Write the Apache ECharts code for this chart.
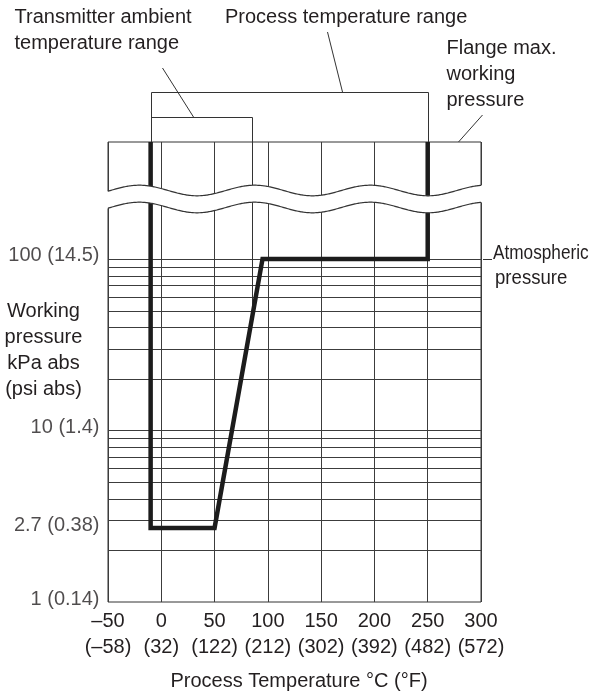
<!DOCTYPE html>
<html>
<head>
<meta charset="utf-8">
<script src="https://cdn.jsdelivr.net/npm/echarts@6.0.0/dist/echarts.min.js"></script>
<style>
html,body{margin:0;padding:0;background:#fff;}
#chart{width:596px;height:700px;}
</style>
</head>
<body>
<div id="chart"></div>
<script>
// ---- data ----
const xTicks = [-50, 0, 50, 100, 150, 200, 250, 300];
const xTickLabels = ['–50', '0', '50', '100', '150', '200', '250', '300'];
const xTickLabelsF = ['(–58)', '(32)', '(122)', '(212)', '(302)', '(392)', '(482)', '(572)'];
const yTicks = [1, 2.7, 10, 100];
const yTickLabels = ['1 (0.14)', '2.7 (0.38)', '10 (1.4)', '100 (14.5)'];
const pressureGrid = [2, 3, 4, 5, 6, 7, 8, 9, 10, 20, 30, 40, 50, 60, 70, 80, 90, 100];
const limitTemp = [-10, -10, 50, 95, 250, 250];
const limitPressure = [480, 2.7, 2.7, 100, 100, 480];
const processRange = [-10, 250];
const ambientRange = [-10, 85];
const ambientLimitPressure = 50;
const atmosphericPressure = 100;
const leaderAnchors = { ambient: 30, process: 170, flange: 278 };
const xMin = -50, xMax = 300, yMin = 1, yMax = 480;

const FONT = '"Liberation Sans", Arial, Helvetica, sans-serif';
const TXT = '#231f20';
const GRID = '#3c3c3c';

const chart = echarts.init(document.getElementById('chart'), null, {renderer: 'canvas'});

function r(v) { return Math.round(v) + 0.5; }

const option = {
  animation: false,
  backgroundColor: '#fff',
  grid: {
    left: 108, right: 115, top: 142, bottom: 98,
    show: true, borderColor: '#333', borderWidth: 1, backgroundColor: 'transparent'
  },
  xAxis: {
    type: 'value', min: xMin, max: xMax, interval: 50,
    axisLine: {show: false}, axisTick: {show: false},
    splitLine: {show: true, lineStyle: {color: GRID, width: 1}},
    axisLabel: {
      show: true, margin: 6, showMinLabel: true, showMaxLabel: true, hideOverlap: false,
      formatter: function (v) {
        const i = xTicks.indexOf(v);
        if (i < 0) return '';
        return '{t|' + xTickLabels[i] + '}\n{f|' + xTickLabelsF[i] + '}';
      },
      rich: {
        t: {fontFamily: FONT, fontSize: 20, lineHeight: 26, color: TXT},
        f: {fontFamily: FONT, fontSize: 20, lineHeight: 26, color: TXT}
      }
    }
  },
  yAxis: {
    type: 'log', min: yMin, max: yMax, logBase: 10,
    axisLine: {show: false}, axisTick: {show: false},
    splitLine: {show: false}, axisLabel: {show: false}
  },
  series: [
    // horizontal pressure grid lines
    {
      type: 'custom', z: 1, silent: true, clip: false,
      data: pressureGrid.map(v => [xMin, v]),
      renderItem: function (params, api) {
        const p1 = api.coord([xMin, api.value(1)]);
        const p2 = api.coord([xMax, api.value(1)]);
        return {type: 'line', shape: {x1: p1[0], y1: r(p1[1]), x2: p2[0], y2: r(p2[1])},
                style: {stroke: GRID, lineWidth: 1}};
      }
    },
    // brackets, ambient limit line, leaders
    {
      type: 'custom', z: 1, silent: true, clip: false,
      data: [[100, 10]],
      renderItem: function (params, api) {
        const cs = params.coordSys;
        const top = cs.y;
        const xp = v => r(api.coord([v, 10])[0]);
        const procY = top - 50;
        const ambY = top - 25;
        const ambBottom = api.coord([ambientRange[1], ambientLimitPressure])[1];
        const st = {stroke: '#333', lineWidth: 1, fill: null};
        const children = [
          {type: 'polyline', shape: {points: [[xp(processRange[0]), top], [xp(processRange[0]), r(procY)], [xp(processRange[1]), r(procY)], [xp(processRange[1]), top]]}, style: st},
          {type: 'polyline', shape: {points: [[xp(ambientRange[0]), r(ambY)], [xp(ambientRange[1]), r(ambY)], [xp(ambientRange[1]), ambBottom]]}, style: st},
          // leaders
          {type: 'line', shape: {x1: xp(leaderAnchors.ambient), y1: ambY, x2: xp(leaderAnchors.ambient) - 31, y2: ambY - 49}, style: st},
          {type: 'line', shape: {x1: xp(leaderAnchors.process), y1: procY, x2: xp(leaderAnchors.process) - 15, y2: procY - 60}, style: st},
          {type: 'line', shape: {x1: xp(leaderAnchors.flange), y1: top, x2: xp(leaderAnchors.flange) + 24, y2: top - 27}, style: st}
        ];
        const atm = api.coord([xMax, atmosphericPressure]);
        children.push({type: 'line', shape: {x1: atm[0] + 2, y1: r(atm[1]), x2: atm[0] + 11, y2: r(atm[1])}, style: st});
        return {type: 'group', children: children};
      }
    },
    // working limit (thick line)
    {
      type: 'line', z: 3, silent: true, clip: false,
      data: limitTemp.map((t, i) => [t, limitPressure[i]]),
      showSymbol: false, symbol: 'none',
      lineStyle: {color: '#1c1c1c', width: 4.5, join: 'miter', cap: 'butt'}
    },
    // axis break band
    {
      type: 'custom', z: 10, silent: true, clip: false,
      data: [[100, 10]],
      renderItem: function (params, api) {
        const cs = params.coordSys;
        const left = cs.x, right = cs.x + cs.width, top = cs.y;
        const P = 115.5, A = 5.3, trough = left + 89;
        const c1 = top + 48.5, c2 = top + 65.5;
        const w = (x, c) => c + A * Math.sin(2 * Math.PI * (x - trough) / P + Math.PI / 2);
        const up = [], dn = [];
        for (let x = left - 1; x <= right + 1.01; x += 1) {
          up.push([x, w(x, c1)]);
          dn.push([x, w(x, c2)]);
        }
        const poly = up.concat(dn.slice().reverse());
        const clipL = pts => pts.filter(p => p[0] >= left && p[0] <= right + 0.5);
        return {type: 'group', children: [
          {type: 'polygon', shape: {points: poly}, style: {fill: '#fff', stroke: null}},
          {type: 'polyline', shape: {points: clipL(up)}, style: {stroke: '#333', lineWidth: 1.2, fill: null}},
          {type: 'polyline', shape: {points: clipL(dn)}, style: {stroke: '#333', lineWidth: 1.2, fill: null}}
        ]};
      }
    },
    // y tick labels
    {
      type: 'scatter', z: 12, silent: true, clip: false,
      symbolSize: 1, itemStyle: {color: 'rgba(0,0,0,0)'},
      data: yTicks.map((v, i) => ({value: [xMin, v], name: yTickLabels[i]})),
      label: {
        show: true, position: 'left', distance: 8, offset: [0, -3],
        formatter: p => p.name,
        fontFamily: FONT, fontSize: 20, color: TXT
      }
    }
  ],
  graphic: [
    {type: 'text', x: 14.5, y: 4, style: {text: 'Transmitter ambient\ntemperature range', font: '20px ' + FONT, fill: TXT, lineHeight: 26, align: 'left', verticalAlign: 'top', textAlign: 'left', textVerticalAlign: 'top'}},
    {type: 'text', x: 225, y: 4, style: {text: 'Process temperature range', font: '20px ' + FONT, fill: TXT, lineHeight: 26, align: 'left', verticalAlign: 'top', textAlign: 'left', textVerticalAlign: 'top'}},
    {type: 'text', x: 446.5, y: 35, style: {text: 'Flange max.\nworking\npressure', font: '20px ' + FONT, fill: TXT, lineHeight: 26, align: 'left', verticalAlign: 'top', textAlign: 'left', textVerticalAlign: 'top'}},
    {type: 'text', x: 493, y: 240.5, scaleX: 0.86, style: {text: 'Atmospheric', font: '20px ' + FONT, fill: TXT, lineHeight: 25, align: 'left', verticalAlign: 'top', textAlign: 'left', textVerticalAlign: 'top'}},
    {type: 'text', x: 495, y: 265.5, scaleX: 0.93, style: {text: 'pressure', font: '20px ' + FONT, fill: TXT, lineHeight: 25, align: 'left', verticalAlign: 'top', textAlign: 'left', textVerticalAlign: 'top'}},
    {type: 'text', x: 43.5, y: 298, style: {text: 'Working\npressure\nkPa abs\n(psi abs)', font: '20px ' + FONT, fill: TXT, lineHeight: 26, align: 'center', verticalAlign: 'top', textAlign: 'center', textVerticalAlign: 'top'}},
    {type: 'text', x: 299, y: 668, style: {text: 'Process Temperature °C (°F)', font: '20px ' + FONT, fill: TXT, lineHeight: 26, align: 'center', verticalAlign: 'top', textAlign: 'center', textVerticalAlign: 'top'}}
  ]
};
chart.setOption(option);
</script>
</body>
</html>
